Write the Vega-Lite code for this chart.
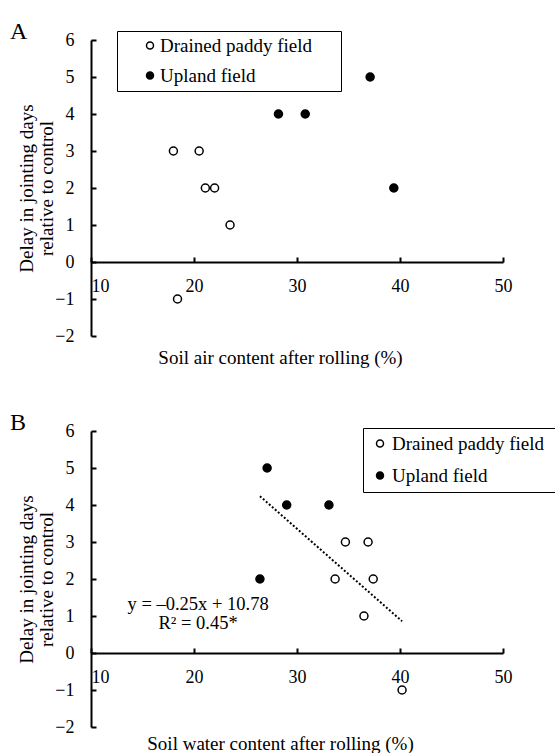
{
  "$schema": "https://vega.github.io/schema/vega-lite/v6.json",
  "background": "white",
  "padding": {"left": 10, "top": 19, "right": 0, "bottom": 0},
  "config": {
    "font": "Liberation Serif",
    "view": {"stroke": null},
    "axis": {
      "grid": false,
      "domainColor": "black", "domainWidth": 2,
      "tickColor": "black", "tickWidth": 2, "tickSize": -5,
      "labelColor": "black", "labelFont": "Liberation Serif", "labelFontSize": 18,
      "titleColor": "black", "titleFont": "Liberation Serif", "titleFontSize": 19, "titleFontWeight": "normal",
      "labelOverlap": false, "labelFlush": false
    },
    "legend": {
      "labelFont": "Liberation Serif", "labelFontSize": 19, "labelColor": "black", "labelLimit": 400,
      "strokeColor": "black", "symbolType": "circle", "symbolSize": 49,
      "symbolStrokeColor": "black", "symbolStrokeWidth": 1.5
    },
    "title": {"font": "Liberation Serif", "fontSize": 24, "fontWeight": "normal", "color": "black"}
  },
  "datasets": {
    "a": [
      {"x": 18.0, "y": 3, "type": "Drained paddy field"},
      {"x": 20.5, "y": 3, "type": "Drained paddy field"},
      {"x": 21.1, "y": 2, "type": "Drained paddy field"},
      {"x": 22.0, "y": 2, "type": "Drained paddy field"},
      {"x": 23.5, "y": 1, "type": "Drained paddy field"},
      {"x": 18.4, "y": -1, "type": "Drained paddy field"},
      {"x": 28.2, "y": 4, "type": "Upland field"},
      {"x": 30.8, "y": 4, "type": "Upland field"},
      {"x": 37.1, "y": 5, "type": "Upland field"},
      {"x": 39.4, "y": 2, "type": "Upland field"}
    ],
    "b": [
      {"x": 34.7, "y": 3, "type": "Drained paddy field"},
      {"x": 36.9, "y": 3, "type": "Drained paddy field"},
      {"x": 33.7, "y": 2, "type": "Drained paddy field"},
      {"x": 37.4, "y": 2, "type": "Drained paddy field"},
      {"x": 36.5, "y": 1, "type": "Drained paddy field"},
      {"x": 40.2, "y": -1, "type": "Drained paddy field"},
      {"x": 27.1, "y": 5, "type": "Upland field"},
      {"x": 29.0, "y": 4, "type": "Upland field"},
      {"x": 33.1, "y": 4, "type": "Upland field"},
      {"x": 26.4, "y": 2, "type": "Upland field"}
    ]
  },
  "spacing": 95,
  "bounds": "flush",
  "resolve": {"legend": {"fill": "independent"}},
  "vconcat": [
    {
      "width": 412, "height": 296,
      "title": {"text": "A", "anchor": "start", "frame": "group", "dx": -81, "baseline": "alphabetic", "offset": 0, "dy": 32},
      "data": {"name": "a"},
      "layer": [
        {
          "mark": {"type": "point", "shape": "circle", "filled": true, "stroke": "black", "strokeWidth": 1.5, "size": 64, "opacity": 1},
          "encoding": {
            "x": {"field": "x", "type": "quantitative",
              "scale": {"domain": [10, 50], "nice": false, "zero": false},
              "axis": {"values": [10, 20, 30, 40, 50], "offset": -74, "labelPadding": 20, "labelBaseline": "top",
                "labelAlign": {"condition": {"test": "datum.value == 10", "value": "left"}, "value": "center"},
                "title": "Soil air content after rolling (%)", "titleX": 189, "titleY": 101, "titleAlign": "center", "titleBaseline": "alphabetic"}},
            "y": {"field": "y", "type": "quantitative",
              "scale": {"domain": [-2, 6], "nice": false, "zero": false},
              "axis": {"values": [-2, -1, 0, 1, 2, 3, 4, 5, 6], "labelPadding": 22,
                "title": ["Delay in jointing days", "relative to control"], "titleX": -65, "titleY": 148, "titleAngle": 270,
                "titleAlign": "center", "titleBaseline": "middle", "titleLineHeight": 20}},
            "fill": {"field": "type", "type": "nominal",
              "scale": {"domain": ["Drained paddy field", "Upland field"], "range": ["white", "black"]},
              "legend": {"orient": "none", "legendX": 26, "legendY": -9, "title": null, "padding": 5,
                "symbolOffset": 18.5, "labelOffset": 0.5, "rowPadding": 10,
                "encode": {"legend": {"update": {"strokeWidth": {"value": 1.5}}}},
                "labelExpr": "datum.label + '\u00a0\u00a0\u00a0\u00a0\u00a0\u200b'"}}
          }
        }
      ]
    },
    {
      "width": 412, "height": 296,
      "title": {"text": "B", "anchor": "start", "frame": "group", "dx": -81, "baseline": "alphabetic", "offset": 0, "dy": 32},
      "data": {"name": "b"},
      "layer": [
        {
          "transform": [{"regression": "y", "on": "x"}],
          "mark": {"type": "line", "color": "black", "strokeDash": [2, 2], "strokeWidth": 2},
          "encoding": {
            "x": {"field": "x", "type": "quantitative",
              "scale": {"domain": [10, 50], "nice": false, "zero": false},
              "axis": {"values": [10, 20, 30, 40, 50], "offset": -74, "labelPadding": 20, "labelBaseline": "top",
                "labelAlign": {"condition": {"test": "datum.value == 10", "value": "left"}, "value": "center"},
                "title": "Soil water content after rolling (%)", "titleX": 189, "titleY": 96, "titleAlign": "center", "titleBaseline": "alphabetic"}},
            "y": {"field": "y", "type": "quantitative",
              "scale": {"domain": [-2, 6], "nice": false, "zero": false},
              "axis": {"values": [-2, -1, 0, 1, 2, 3, 4, 5, 6], "labelPadding": 22,
                "title": ["Delay in jointing days", "relative to control"], "titleX": -65, "titleY": 148, "titleAngle": 270,
                "titleAlign": "center", "titleBaseline": "middle", "titleLineHeight": 20}}
          }
        },
        {
          "transform": [{"aggregate": [{"op": "count", "as": "n"}]}],
          "mark": {"type": "text", "text": ["y = –0.25x + 10.78", "R² = 0.45*"], "fontSize": 18.5, "lineHeight": 19, "align": "center", "baseline": "middle", "color": "black", "font": "Liberation Serif"},
          "encoding": {
            "x": {"datum": 20.4, "type": "quantitative",
              "scale": {"domain": [10, 50], "nice": false, "zero": false},
              "axis": {"values": [10, 20, 30, 40, 50], "offset": -74, "labelPadding": 20, "labelBaseline": "top",
                "labelAlign": {"condition": {"test": "datum.value == 10", "value": "left"}, "value": "center"},
                "title": "Soil water content after rolling (%)", "titleX": 189, "titleY": 96, "titleAlign": "center", "titleBaseline": "alphabetic"}},
            "y": {"datum": 1.32, "type": "quantitative",
              "scale": {"domain": [-2, 6], "nice": false, "zero": false},
              "axis": {"values": [-2, -1, 0, 1, 2, 3, 4, 5, 6], "labelPadding": 22,
                "title": ["Delay in jointing days", "relative to control"], "titleX": -65, "titleY": 148, "titleAngle": 270,
                "titleAlign": "center", "titleBaseline": "middle", "titleLineHeight": 20}}
          }
        },
        {
          "mark": {"type": "point", "shape": "circle", "filled": true, "stroke": "black", "strokeWidth": 1.5, "size": 64, "opacity": 1},
          "encoding": {
            "x": {"field": "x", "type": "quantitative",
              "scale": {"domain": [10, 50], "nice": false, "zero": false},
              "axis": {"values": [10, 20, 30, 40, 50], "offset": -74, "labelPadding": 20, "labelBaseline": "top",
                "labelAlign": {"condition": {"test": "datum.value == 10", "value": "left"}, "value": "center"},
                "title": "Soil water content after rolling (%)", "titleX": 189, "titleY": 96, "titleAlign": "center", "titleBaseline": "alphabetic"}},
            "y": {"field": "y", "type": "quantitative",
              "scale": {"domain": [-2, 6], "nice": false, "zero": false},
              "axis": {"values": [-2, -1, 0, 1, 2, 3, 4, 5, 6], "labelPadding": 22,
                "title": ["Delay in jointing days", "relative to control"], "titleX": -65, "titleY": 148, "titleAngle": 270,
                "titleAlign": "center", "titleBaseline": "middle", "titleLineHeight": 20}},
            "fill": {"field": "type", "type": "nominal",
              "scale": {"domain": ["Drained paddy field", "Upland field"], "range": ["white", "black"]},
              "legend": {"orient": "none", "legendX": 272, "legendY": -3, "title": null, "padding": 6,
                "symbolOffset": 1.5, "labelOffset": 2.5, "rowPadding": 12,
                "encode": {"legend": {"update": {"strokeWidth": {"value": 1.5}}}},
                "labelExpr": "datum.label + '\u00a0\u200b'"}}
          }
        }
      ]
    }
  ]
}
